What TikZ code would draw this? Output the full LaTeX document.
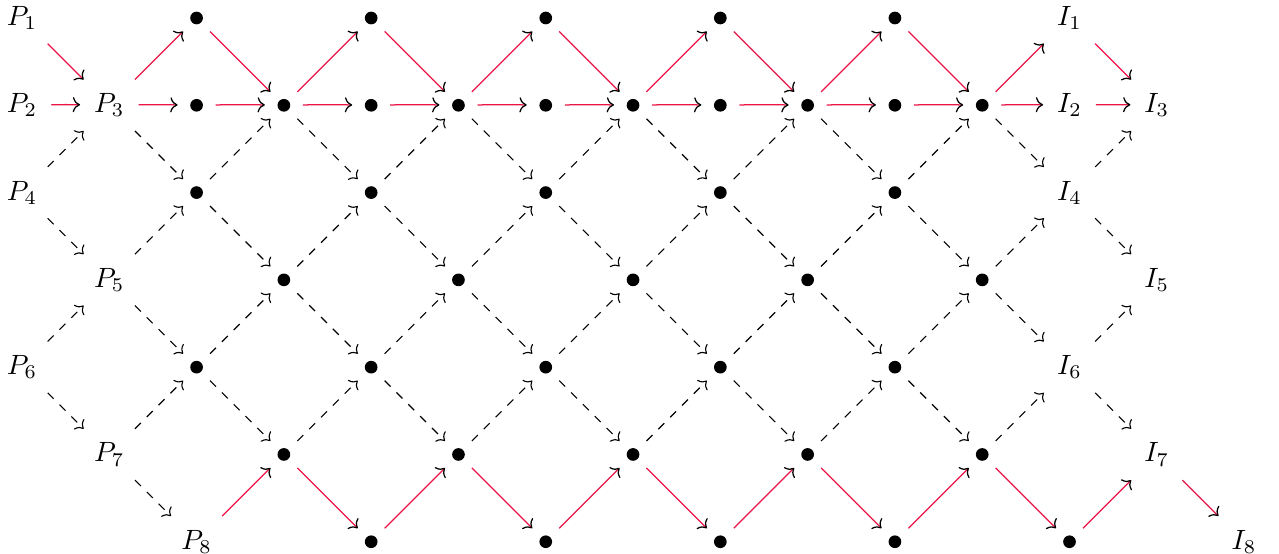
\documentclass[tikz,border=0pt]{standalone}
\usepackage{tikz}
\usetikzlibrary{arrows.meta}
\definecolor{pathred}{RGB}{235,20,70}
\tikzset{
vlabel/.style={inner sep=.17cm},
dot/.style={circle,fill,inner sep=0pt,minimum size=.16cm,outer sep=.16cm},
redarrow/.style={-{Computer Modern Rightarrow[color=black]},color=pathred,line width=.45pt},
dasharrow/.style={-{Computer Modern Rightarrow},dashed,line width=.4pt}
}
\begin{document}
\begin{tikzpicture}[x=1.1cm,y=-1.1cm]
\useasboundingbox (-0.252,-0.206) rectangle (14.4,6.14);
% labelled vertices (row/column/text)
\foreach \r/\c/\t in {0/0/P_1,1/0/P_2,1/1/P_3,2/0/P_4,3/1/P_5,4/0/P_6,5/1/P_7,6/2/P_8,
  0/12/I_1,1/12/I_2,1/13/I_3,2/12/I_4,3/13/I_5,4/12/I_6,5/13/I_7,6/14/I_8}
  \node[vlabel](v-\r-\c) at (\c,\r) {$\t$};
% bullets
\foreach \c in {2,4,...,10} {
  \node[dot](v-0-\c) at (\c,0) {};
  \node[dot](v-2-\c) at (\c,2) {};
  \node[dot](v-4-\c) at (\c,4) {};
}
\foreach \c in {4,6,...,12} \node[dot](v-6-\c) at (\c,6) {};
\foreach \c in {2,...,11} \node[dot](v-1-\c) at (\c,1) {};
\foreach \c in {3,5,...,11} {
  \node[dot](v-3-\c) at (\c,3) {};
  \node[dot](v-5-\c) at (\c,5) {};
}
% red path
\draw[redarrow](v-0-0)--(v-1-1);
\draw[redarrow](v-1-0) to[bend left=1] (v-1-1);
\foreach \c [evaluate=\c as \d using int(\c+1)] in {1,...,12}
  \draw[redarrow](v-1-\c) to[bend left=1] (v-1-\d);
\foreach \c [evaluate=\c as \d using int(\c+1),evaluate=\c as \e using int(\c+2)] in {1,3,...,11} {
  \draw[redarrow](v-1-\c)--(v-0-\d);
  \draw[redarrow](v-0-\d)--(v-1-\e);
}
\foreach \c [evaluate=\c as \d using int(\c+1),evaluate=\c as \e using int(\c+2)] in {2,4,...,12} {
  \draw[redarrow](v-6-\c)--(v-5-\d);
  \draw[redarrow](v-5-\d)--(v-6-\e);
}
% dashed lattice
\draw[dasharrow](v-5-1)--(v-6-2);
\foreach \c [evaluate=\c as \d using int(\c+1)] in {1,3,...,11} {
  \draw[dasharrow](v-1-\c)--(v-2-\d);
  \draw[dasharrow](v-3-\c)--(v-2-\d);
  \draw[dasharrow](v-3-\c)--(v-4-\d);
  \draw[dasharrow](v-5-\c)--(v-4-\d);
}
\foreach \c [evaluate=\c as \d using int(\c+1)] in {0,2,...,12} {
  \draw[dasharrow](v-2-\c)--(v-1-\d);
  \draw[dasharrow](v-2-\c)--(v-3-\d);
  \draw[dasharrow](v-4-\c)--(v-3-\d);
  \draw[dasharrow](v-4-\c)--(v-5-\d);
}
\end{tikzpicture}
\end{document}
